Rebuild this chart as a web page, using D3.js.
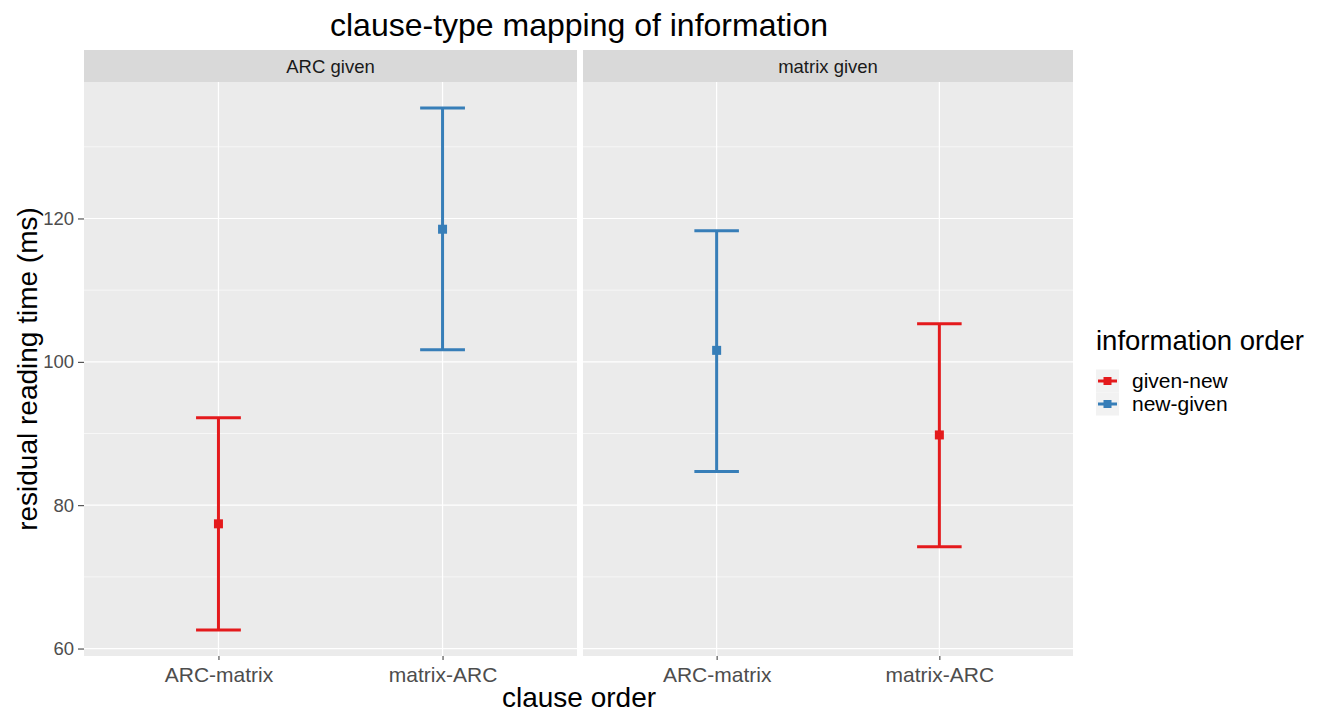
<!DOCTYPE html>
<html>
<head>
<meta charset="utf-8">
<script src="https://cdn.jsdelivr.net/npm/d3@7"></script>
<style>
  body { margin: 0; background: #fff; }
  text { font-family: "Liberation Sans", Arial, sans-serif; }
</style>
</head>
<body>
<div id="chart"></div>
<script>
// data
var facets = ['ARC given', 'matrix given'];
var clauseOrders = ['ARC-matrix', 'matrix-ARC'];
var infoOrders = ['given-new', 'new-given'];
var colors = ['#E41A1C', '#377EB8'];
var yTicks = [60, 80, 100, 120];
var yMinor = [70, 90, 110, 130];

// one row per point: facet, clause order, information order, mean, lower, upper
var rowFacet = ['ARC given', 'ARC given', 'matrix given', 'matrix given'];
var rowClause = ['ARC-matrix', 'matrix-ARC', 'ARC-matrix', 'matrix-ARC'];
var rowInfo = ['given-new', 'new-given', 'new-given', 'given-new'];
var rowMean = [77.4, 118.5, 101.6, 89.8];
var rowLower = [62.6, 101.7, 84.7, 74.2];
var rowUpper = [92.2, 135.4, 118.3, 105.3];

var width = 1321, height = 712;
var panelTop = 82, panelBottom = 656;
var stripTop = 50;
var panels = [[84, 577], [583, 1073]];

var svg = d3.select('#chart')
    .append('svg')
    .attr('width', width)
    .attr('height', height);

var yMin = d3.min(rowLower), yMax = d3.max(rowUpper);
var pad = (yMax - yMin) * 0.05;
var y = d3.scaleLinear()
    .domain([yMin - pad, yMax + pad])
    .range([panelBottom, panelTop]);

var color = d3.scaleOrdinal().domain(infoOrders).range(colors);

facets.forEach(function (f, fi) {
    var x0 = panels[fi][0], x1 = panels[fi][1];
    // discrete scale with 0.6 step of outer padding, as ggplot does
    var x = d3.scalePoint()
        .domain(clauseOrders)
        .range([x0, x1])
        .padding(0.6);

    var g = svg.append('g');

    // strip
    g.append('rect')
        .attr('x', x0).attr('y', stripTop)
        .attr('width', x1 - x0).attr('height', panelTop - stripTop)
        .attr('fill', '#d9d9d9');
    g.append('text')
        .attr('x', (x0 + x1) / 2).attr('y', (stripTop + panelTop) / 2 + 6.5)
        .attr('text-anchor', 'middle')
        .attr('font-size', 18.5)
        .attr('fill', '#1a1a1a')
        .text(f);

    // panel background
    g.append('rect')
        .attr('x', x0).attr('y', panelTop)
        .attr('width', x1 - x0).attr('height', panelBottom - panelTop)
        .attr('fill', '#ebebeb');

    // grid
    g.selectAll('.minor').data(yMinor).enter().append('line')
        .attr('x1', x0).attr('x2', x1)
        .attr('y1', function (d) { return y(d); })
        .attr('y2', function (d) { return y(d); })
        .attr('stroke', '#fff').attr('stroke-width', 0.6);
    g.selectAll('.major').data(yTicks).enter().append('line')
        .attr('x1', x0).attr('x2', x1)
        .attr('y1', function (d) { return y(d); })
        .attr('y2', function (d) { return y(d); })
        .attr('stroke', '#fff').attr('stroke-width', 1.2);
    g.selectAll('.vmajor').data(clauseOrders).enter().append('line')
        .attr('x1', function (d) { return x(d); })
        .attr('x2', function (d) { return x(d); })
        .attr('y1', panelTop).attr('y2', panelBottom)
        .attr('stroke', '#fff').attr('stroke-width', 1.2);

    // x axis
    var xAxis = d3.axisBottom(x).tickSize(4).tickPadding(5);
    var xa = svg.append('g')
        .attr('transform', 'translate(0,' + panelBottom + ')')
        .call(xAxis);
    xa.select('.domain').remove();
    xa.selectAll('line').attr('stroke', '#333');
    xa.selectAll('text')
        .attr('font-size', 21)
        .attr('fill', '#4d4d4d')
        .attr('dy', '0.8em');

    // error bars
    var capHalf = x.step() * 0.1;
    var idx = d3.range(rowFacet.length).filter(function (i) { return rowFacet[i] === f; });
    var bars = g.selectAll('.eb').data(idx).enter().append('g')
        .attr('stroke', function (i) { return color(rowInfo[i]); })
        .attr('stroke-width', 3);
    bars.append('line')
        .attr('x1', function (i) { return x(rowClause[i]); })
        .attr('x2', function (i) { return x(rowClause[i]); })
        .attr('y1', function (i) { return y(rowLower[i]); })
        .attr('y2', function (i) { return y(rowUpper[i]); });
    bars.append('line')
        .attr('x1', function (i) { return x(rowClause[i]) - capHalf; })
        .attr('x2', function (i) { return x(rowClause[i]) + capHalf; })
        .attr('y1', function (i) { return y(rowUpper[i]); })
        .attr('y2', function (i) { return y(rowUpper[i]); });
    bars.append('line')
        .attr('x1', function (i) { return x(rowClause[i]) - capHalf; })
        .attr('x2', function (i) { return x(rowClause[i]) + capHalf; })
        .attr('y1', function (i) { return y(rowLower[i]); })
        .attr('y2', function (i) { return y(rowLower[i]); });
    bars.append('rect')
        .attr('stroke', 'none')
        .attr('x', function (i) { return x(rowClause[i]) - 4.5; })
        .attr('y', function (i) { return y(rowMean[i]) - 4.5; })
        .attr('width', 9).attr('height', 9)
        .attr('fill', function (i) { return color(rowInfo[i]); });
});

// y axis
var yAxis = d3.axisLeft(y).tickValues(yTicks).tickSize(6).tickPadding(4);
var ya = svg.append('g')
    .attr('transform', 'translate(' + panels[0][0] + ',0)')
    .call(yAxis);
ya.select('.domain').remove();
ya.selectAll('line').attr('stroke', '#333');
ya.selectAll('text').attr('font-size', 18.5).attr('fill', '#4d4d4d');

// titles
svg.append('text')
    .attr('x', 579).attr('y', 36)
    .attr('text-anchor', 'middle')
    .attr('font-size', 32)
    .attr('fill', '#000')
    .text('clause-type mapping of information');
svg.append('text')
    .attr('x', 579).attr('y', 707)
    .attr('text-anchor', 'middle')
    .attr('font-size', 28)
    .attr('fill', '#000')
    .text('clause order');
svg.append('text')
    .attr('transform', 'translate(37,' + ((panelTop + panelBottom) / 2) + ') rotate(-90)')
    .attr('text-anchor', 'middle')
    .attr('font-size', 28)
    .attr('fill', '#000')
    .text('residual reading time (ms)');

// legend
var leg = svg.append('g').attr('transform', 'translate(1086,0)');
leg.append('text')
    .attr('x', 10).attr('y', 350)
    .attr('font-size', 27.5)
    .attr('fill', '#000')
    .text('information order');
infoOrders.forEach(function (d, i) {
    var cy = 381 + i * 23;
    leg.append('rect')
        .attr('x', 10).attr('y', cy - 11.5)
        .attr('width', 23).attr('height', 23)
        .attr('fill', '#f2f2f2');
    leg.append('line')
        .attr('x1', 12).attr('x2', 31)
        .attr('y1', cy).attr('y2', cy)
        .attr('stroke', color(d)).attr('stroke-width', 3);
    leg.append('rect')
        .attr('x', 17.5).attr('y', cy - 4).attr('width', 8).attr('height', 8)
        .attr('fill', color(d));
    leg.append('text')
        .attr('x', 46).attr('y', cy + 7)
        .attr('font-size', 21)
        .attr('fill', '#000')
        .text(d);
});
</script>
</body>
</html>
